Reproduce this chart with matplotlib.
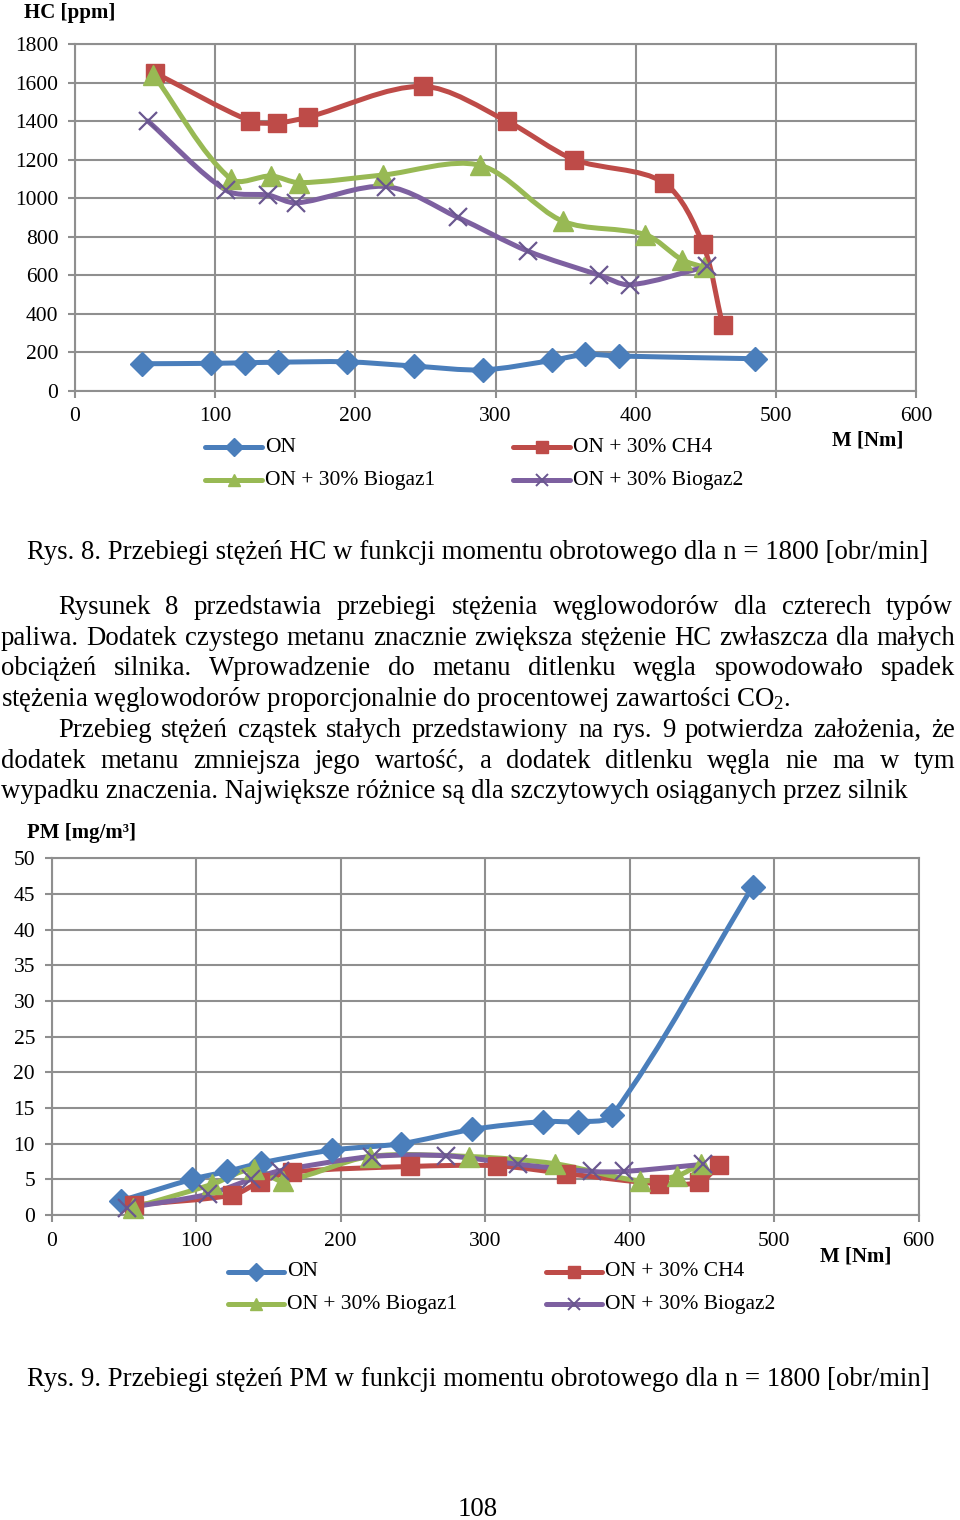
import matplotlib
matplotlib.use("Agg")
import numpy as np
import matplotlib.pyplot as plt
from matplotlib.path import Path
from matplotlib.patches import PathPatch
from matplotlib.lines import Line2D

plt.rcParams['font.family'] = ['Liberation Serif', 'DejaVu Serif']
plt.rcParams['mathtext.default'] = 'regular'

# --- data ---
torque_on = [48, 97, 121, 145, 194, 242, 291, 340, 364, 388, 485]
hc_on = [140, 142, 145, 148, 150, 128, 108, 157, 188, 180, 166]
pm_on = [2.0, 5.0, 6.1, 7.3, 9.1, 10.0, 12.0, 13.1, 13.1, 14.0, 46.0]

torque_ch4 = [57, 125, 144, 166, 248, 308, 356, 420, 448, 462]
hc_ch4 = [1650, 1400, 1390, 1420, 1580, 1400, 1200, 1080, 760, 340]
pm_ch4 = [1.4, 2.8, 4.6, 6.0, 6.8, 6.9, 5.8, 4.4, 4.6, 7.0]

torque_bg1 = [56, 111, 140, 160, 220, 289, 348, 407, 433, 449]
hc_bg1 = [1640, 1100, 1115, 1080, 1120, 1170, 880, 810, 680, 640]
pm_bg1 = [1.0, 4.3, 6.5, 4.8, 8.2, 8.2, 7.2, 4.8, 5.5, 7.2]

torque_bg2 = [52, 108, 138, 158, 222, 273, 323, 374, 396, 451]
hc_bg2 = [1400, 1040, 1015, 975, 1060, 900, 725, 600, 550, 645]
pm_bg2 = [1.0, 2.9, 5.0, 6.2, 8.2, 8.3, 7.1, 6.1, 6.1, 7.1]

labels = ["ON", "ON + 30% CH4", "ON + 30% Biogaz1", "ON + 30% Biogaz2"]
colors = ["#4A7EBB", "#BE4B48", "#98B954", "#7D60A0"]
markers = ["D", "s", "^", "x"]
msizes = [12, 13, 14, 13]

x_ticks = [0, 100, 200, 300, 400, 500, 600]
hc_ticks = [0, 200, 400, 600, 800, 1000, 1200, 1400, 1600, 1800]
pm_ticks = [0, 5, 10, 15, 20, 25, 30, 35, 40, 45, 50]

caption8 = "Rys. 8. Przebiegi stężeń HC w funkcji momentu obrotowego dla n = 1800 [obr/min]"
caption9 = "Rys. 9. Przebiegi stężeń PM w funkcji momentu obrotowego dla n = 1800 [obr/min]"
body = [
    ("Rysunek 8 przedstawia przebiegi stężenia węglowodorów dla czterech typów", 58, 953, True),
    ("paliwa. Dodatek czystego metanu znacznie zwiększa stężenie HC zwłaszcza dla małych", 1, 955, True),
    ("obciążeń silnika. Wprowadzenie do metanu ditlenku węgla spowodowało spadek", 1, 955, True),
    ("stężenia węglowodorów proporcjonalnie do procentowej zawartości CO$_2$.", 1, None, False),
    ("Przebieg stężeń cząstek stałych przedstawiony na rys. 9 potwierdza założenia, że", 58, 955, True),
    ("dodatek metanu zmniejsza jego wartość, a dodatek ditlenku węgla nie ma w tym", 1, 955, True),
    ("wypadku znaczenia. Największe różnice są dla szczytowych osiąganych przez silnik", 1, None, False),
]

W, H = 960, 1520
fig = plt.figure(figsize=(W / 100, H / 100), dpi=100)
fig.patch.set_facecolor("white")
renderer = fig.canvas.get_renderer()


def fx(px):
    return px / W


def fy(py):
    return 1 - py / H


def smooth_path(ax, x, y, k=0.3):
    # bezier through the points, like the spreadsheet "smoothed line";
    # tangents worked out in screen space, handle length ~ segment length
    pts = ax.transData.transform(np.column_stack([x, y]).astype(float))
    n = len(pts)
    tang = []
    for i in range(n):
        a = pts[max(i - 1, 0)]
        b = pts[min(i + 1, n - 1)]
        d = b - a
        tang.append(d / np.hypot(*d))
    verts = [pts[0]]
    codes = [Path.MOVETO]
    for i in range(n - 1):
        p1, p2 = pts[i], pts[i + 1]
        L = np.hypot(*(p2 - p1))
        verts += [p1 + tang[i] * L * k, p2 - tang[i + 1] * L * k, p2]
        codes += [Path.CURVE4] * 3
    verts = ax.transData.inverted().transform(np.array(verts))
    return Path(verts, codes)


grid_c = "#8f8f8f"
tick_fs = 15.5


def make_axes(rect, ymax, yticks, xs, ys):
    ax = fig.add_axes(rect)
    ax.set_xlim(0, 600)
    ax.set_ylim(0, ymax)
    ax.set_xticks(x_ticks)
    ax.set_yticks(yticks)
    ax.grid(True, color=grid_c, lw=1.5)
    ax.set_axisbelow(True)
    for s in ax.spines.values():
        s.set_color(grid_c)
        s.set_linewidth(1.5)
    ax.tick_params(length=5, width=1.5, color=grid_c, labelsize=tick_fs, pad=7)
    for x, y, c, m, ms in zip(xs, ys, colors, markers, msizes):
        ax.add_patch(PathPatch(smooth_path(ax, x, y), fill=False, ec=c, lw=3.6,
                               capstyle="round", joinstyle="round", zorder=3))
        if m == "x":
            ax.plot(x, y, ls="none", marker=m, ms=ms, mew=1.6, color="#6A5790",
                    zorder=4, clip_on=False)
        else:
            ax.plot(x, y, ls="none", marker=m, ms=ms, color=c, mec=c,
                    zorder=4, clip_on=False)
    return ax


def legend_entry(x0, x1, yc, c, m, label):
    line = Line2D([fx(x0), fx((x0 + x1) / 2), fx(x1)], [fy(yc)] * 3,
                  transform=fig.transFigure, color=c, lw=3.6,
                  solid_capstyle="round", marker=m, markevery=[1],
                  ms=9, mew=1.4 if m == "x" else 1,
                  mec="#6A5790" if m == "x" else c)
    fig.add_artist(line)
    fig.text(fx(x1 + 3), fy(yc), label, fontsize=tick_fs, va="center", ha="left")


def fit_size(s, width, weight="normal"):
    t = fig.text(0, 0, s, fontsize=20, fontweight=weight)
    w = t.get_window_extent(renderer).width
    t.remove()
    return 20 * width / w


# --- HC chart ---
ax1 = make_axes([fx(75), fy(390.7), fx(916 - 75), (390.7 - 44) / H], 1800, hc_ticks,
                [torque_on, torque_ch4, torque_bg1, torque_bg2],
                [hc_on, hc_ch4, hc_bg1, hc_bg2])
fig.text(fx(24), fy(13), "HC [ppm]", fontsize=15, fontweight="bold", va="center")
fig.text(fx(832), fy(441), "M [Nm]", fontsize=15, fontweight="bold", va="center")
legend_entry(205, 262, 447, colors[0], markers[0], labels[0])
legend_entry(513, 570, 447, colors[1], markers[1], labels[1])
legend_entry(205, 262, 480, colors[2], markers[2], labels[2])
legend_entry(513, 570, 480, colors[3], markers[3], labels[3])

# --- PM chart ---
ax2 = make_axes([fx(51.7), fy(1215), fx(918.7 - 51.7), (1215 - 858.3) / H], 50, pm_ticks,
                [torque_on, torque_ch4, torque_bg1, torque_bg2],
                [pm_on, pm_ch4, pm_bg1, pm_bg2])
fig.text(fx(27), fy(833), "PM [mg/m³]", fontsize=15, fontweight="bold", va="center")
fig.text(fx(820), fy(1257), "M [Nm]", fontsize=15, fontweight="bold", va="center")
legend_entry(228, 284, 1272, colors[0], markers[0], labels[0])
legend_entry(546, 602, 1272, colors[1], markers[1], labels[1])
legend_entry(228, 284, 1304, colors[2], markers[2], labels[2])
legend_entry(546, 602, 1304, colors[3], markers[3], labels[3])

# --- page text ---
body_fs = fit_size(body[-1][0], 903)
cap_fs = fit_size(caption8, 900)
fig.text(fx(27), fy(559), caption8, fontsize=cap_fs, va="baseline")
fig.text(fx(27), fy(1386), caption9, fontsize=cap_fs, va="baseline")

for i, (line, x0, x1, just) in enumerate(body):
    yb = 614 + i * 30.7
    if not just:
        fig.text(fx(x0), fy(yb), line, fontsize=body_fs, va="baseline")
        continue
    words = line.split()
    texts = [fig.text(0, fy(yb), w, fontsize=body_fs, va="baseline") for w in words]
    widths = [t.get_window_extent(renderer).width for t in texts]
    gap = (x1 - x0 - sum(widths)) / (len(words) - 1)
    x = x0
    for t, w in zip(texts, widths):
        t.set_x(fx(x))
        x += w + gap

fig.text(fx(478), fy(1516), "108", fontsize=body_fs, va="baseline", ha="center")

fig.savefig("out.png", dpi=100)
